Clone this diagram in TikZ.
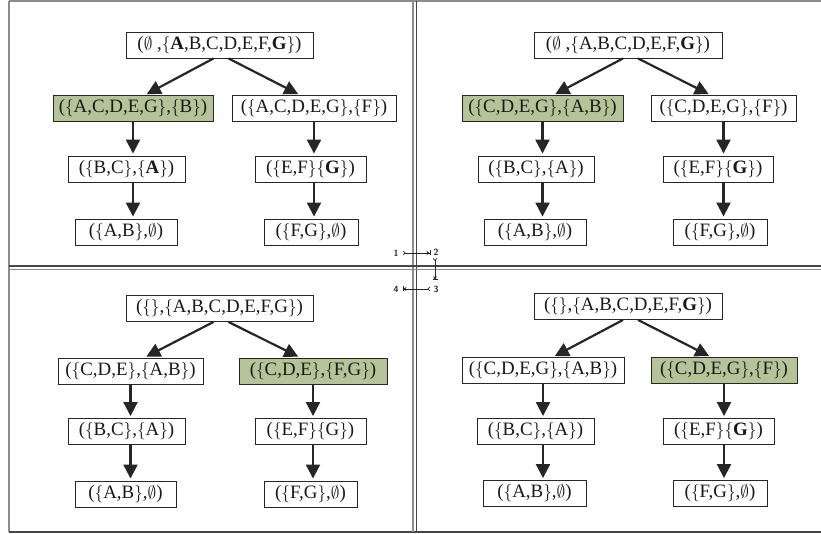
\documentclass[tikz,border=0pt]{standalone}
\usepackage{fontspec}
\setmainfont{Liberation Serif}
\usetikzlibrary{arrows.meta}
\newcommand{\opb}{$\{$}
\newcommand{\clb}{$\}$}
\newcommand{\es}{$\emptyset$}
\definecolor{boxgreen}{RGB}{180,195,152}
\definecolor{frameA}{RGB}{140,140,140}
\definecolor{frameB}{RGB}{70,70,70}
\tikzset{
  box/.style={draw=black!85, line width=0.9pt, inner sep=0pt, minimum height=26pt,
    font=\fontsize{18.9}{21}\selectfont, text=black!90},
  hl/.style={box, fill=boxgreen},
  arr/.style={line width=2.2pt, draw=black!85, -{Triangle[length=14pt,width=14pt]}, shorten >=2pt},
  num/.style={font=\fontsize{9}{9}\sffamily\bfseries, inner sep=1pt, text=black!85},
  leg/.style={line width=0.7pt, draw=black!85, {Straight Barb[reversed,length=2pt,width=4pt]}-{Stealth[length=3pt,width=4pt]Bar[width=5pt]}}
}
\begin{document}
\begin{tikzpicture}[x=1pt,y=-1pt]
\useasboundingbox (0,0) rectangle (821,534);
% frames
\draw[frameA, line width=2pt] (9,1) -- (821,1);
\draw[frameA, line width=2pt] (9,1) -- (9,532);
\draw[frameB, line width=1.6pt] (9,532) -- (821,532);
\draw[frameA, line width=1.8pt] (413,1) -- (413,532);
\draw[frameB, line width=1.4pt] (416.5,1) -- (416.5,532);
\draw[frameB, line width=1.4pt] (9,266) -- (821,266);
\draw[frameA, line width=1.8pt] (9,269.5) -- (821,269.5);

% ---------- top left ----------
\node[box, minimum width=187pt] (a0) at (219.5,45) {(\es\ ,\opb\textbf{A},B,C,D,E,F,\textbf{G}\clb)};
\node[hl, minimum width=160pt] (a1) at (133,108.5) {(\opb A,C,D,E,G\clb,\opb B\clb)};
\node[box, minimum width=164pt] (a2) at (314,108.5) {(\opb A,C,D,E,G\clb,\opb F\clb)};
\node[box, minimum width=117pt] (a3) at (126.5,169) {(\opb B,C\clb,\opb\textbf{A}\clb)};
\node[box, minimum width=111pt] (a4) at (310.5,169) {(\opb E,F\clb\opb\textbf{G}\clb)};
\node[box, minimum width=102pt] (a5) at (126,232) {(\opb A,B\clb,\es)};
\node[box, minimum width=94pt] (a6) at (311,232) {(\opb F,G\clb,\es)};
\draw[arr] ([xshift=-6pt]a0.south) -- ([xshift=12pt]a1.north);
\draw[arr] ([xshift=9pt]a0.south) -- ([xshift=-14pt]a2.north);
\draw[arr] (a1.south) -- (a1.south |- a3.north);
\draw[arr] (a1.south |- a3.south) -- (a1.south |- a5.north);
\draw[arr] (a2.south) -- (a2.south |- a4.north);
\draw[arr] (a2.south |- a4.south) -- (a2.south |- a6.north);

% ---------- top right ----------
\node[box, minimum width=188pt] (b0) at (628,45) {(\es\ ,\opb A,B,C,D,E,F,\textbf{G}\clb)};
\node[hl, minimum width=161pt] (b1) at (542.5,108.5) {(\opb C,D,E,G\clb,\opb A,B\clb)};
\node[box, minimum width=145pt] (b2) at (723.5,108.5) {(\opb C,D,E,G\clb,\opb F\clb)};
\node[box, minimum width=116pt] (b3) at (536,169) {(\opb B,C\clb,\opb A\clb)};
\node[box, minimum width=110pt] (b4) at (718,169) {(\opb E,F\clb\opb\textbf{G}\clb)};
\node[box, minimum width=102pt] (b5) at (535,232) {(\opb A,B\clb,\es)};
\node[box, minimum width=94pt] (b6) at (720,232) {(\opb F,G\clb,\es)};
\draw[arr] ([xshift=-5pt]b0.south) -- ([xshift=11pt]b1.north);
\draw[arr] ([xshift=10pt]b0.south) -- ([xshift=-13pt]b2.north);
\draw[arr] (b1.south) -- (b1.south |- b3.north);
\draw[arr] (b1.south |- b3.south) -- (b1.south |- b5.north);
\draw[arr] (b2.south) -- (b2.south |- b4.north);
\draw[arr] (b2.south |- b4.south) -- (b2.south |- b6.north);

% ---------- bottom left ----------
\node[box, minimum width=187pt] (c0) at (219.5,308.5) {(\opb\clb,\opb A,B,C,D,E,F,G\clb)};
\node[box, minimum width=145pt] (c1) at (130.5,371) {(\opb C,D,E\clb,\opb A,B\clb)};
\node[hl, minimum width=148pt] (c2) at (313,371) {(\opb C,D,E\clb,\opb F,G\clb)};
\node[box, minimum width=117pt] (c3) at (126.5,431.5) {(\opb B,C\clb,\opb A\clb)};
\node[box, minimum width=111pt] (c4) at (310.5,431.5) {(\opb E,F\clb\opb G\clb)};
\node[box, minimum width=101pt] (c5) at (125.5,494) {(\opb A,B\clb,\es)};
\node[box, minimum width=93pt] (c6) at (310.5,494) {(\opb F,G\clb,\es)};
\draw[arr] ([xshift=-6pt]c0.south) -- ([xshift=14pt]c1.north);
\draw[arr] ([xshift=9pt]c0.south) -- ([xshift=-13pt]c2.north);
\draw[arr] (c1.south) -- (c1.south |- c3.north);
\draw[arr] (c1.south |- c3.south) -- (c1.south |- c5.north);
\draw[arr] (c2.south) -- (c2.south |- c4.north);
\draw[arr] (c2.south |- c4.south) -- (c2.south |- c6.north);

% ---------- bottom right ----------
\node[box, minimum width=188pt] (d0) at (628,306.5) {(\opb\clb,\opb A,B,C,D,E,F,\textbf{G}\clb)};
\node[box, minimum width=162pt] (d1) at (543,370.5) {(\opb C,D,E,G\clb,\opb A,B\clb)};
\node[hl, minimum width=146pt] (d2) at (724,370.5) {(\opb C,D,E,G\clb,\opb F\clb)};
\node[box, minimum width=117pt] (d3) at (535.5,431.5) {(\opb B,C\clb,\opb A\clb)};
\node[box, minimum width=111pt] (d4) at (718.5,431.5) {(\opb E,F\clb\opb\textbf{G}\clb)};
\node[box, minimum width=103pt] (d5) at (534.5,493.5) {(\opb A,B\clb,\es)};
\node[box, minimum width=94pt] (d6) at (720,493.5) {(\opb F,G\clb,\es)};
\draw[arr] ([xshift=-5pt]d0.south) -- ([xshift=10pt]d1.north);
\draw[arr] ([xshift=10pt]d0.south) -- ([xshift=-13pt]d2.north);
\draw[arr] (d1.south) -- (d1.south |- d3.north);
\draw[arr] (d1.south |- d3.south) -- (d1.south |- d5.north);
\draw[arr] (d2.south) -- (d2.south |- d4.north);
\draw[arr] (d2.south |- d4.south) -- (d2.south |- d6.north);

% ---------- legend ----------
\node[num] (n1) at (396,253) {1};
\node[num] (n2) at (436,252) {2};
\node[num] (n3) at (436,289) {3};
\node[num] (n4) at (396,289) {4};
\coordinate (l2a) at (435,258);
\coordinate (l2b) at (435,280);
\draw[leg] ([xshift=3pt]n1.east) -- ([xshift=-2pt]n2.west |- n1.east);
\draw[leg] (l2a) -- (l2b);
\draw[leg] ([xshift=-2pt]n3.west) -- ([xshift=3pt]n4.east |- n3.west);
\end{tikzpicture}
\end{document}
